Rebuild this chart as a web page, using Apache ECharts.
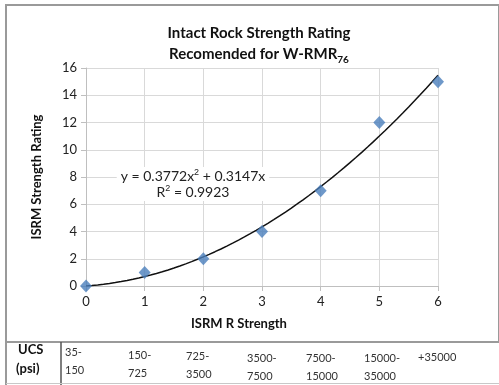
<!DOCTYPE html>
<html><head><meta charset="utf-8">
<script src="https://cdn.jsdelivr.net/npm/echarts@6/dist/echarts.min.js"></script>
<style>html,body{margin:0;padding:0;background:#fff}#c{width:499px;height:385px}</style>
</head><body><div id="c"></div>
<script>
const xValues = [0, 1, 2, 3, 4, 5, 6];
const ratings = [0, 1, 2, 4, 7, 12, 15];
const trendCoef = [0.3772, 0.3147]; // a x^2 + b x
const yTicks = [0, 2, 4, 6, 8, 10, 12, 14, 16];
const ucsLabels = [['35-', '150'], ['150-', '725'], ['725-', '3500'], ['3500-', '7500'], ['7500-', '15000'], ['15000-', '35000'], ['+35000', '']];

const trend = [];
for (let i = 0; i <= 60; i++) { const x = i / 10; trend.push([x, trendCoef[0] * x * x + trendCoef[1] * x]); }

const chart = echarts.init(document.getElementById('c'));
const F = 'Lato, "Open Sans", sans-serif';
const ucsX = [65, 128, 186, 247, 306, 364, 418];
const ucsY = [0, 3, 4, 6, 6, 6, 5];
const gfx = [
  {type:'rect', shape:{x:6,y:5,width:493,height:337}, style:{fill:'none', stroke:'#9a9a9a', lineWidth:2}, silent:true},
  {type:'line', shape:{x1:6,y1:342,x2:6,y2:385}, style:{stroke:'#9a9a9a', lineWidth:2}},
  {type:'line', shape:{x1:61,y1:342,x2:61,y2:385}, style:{stroke:'#555', lineWidth:1.5}},
  {type:'line', shape:{x1:6,y1:383.5,x2:499,y2:383.5}, style:{stroke:'#c8c8c8', lineWidth:1}},
  {type:'text', left:18, top:343, style:{text:'UCS', font:'bold 13px ' + F, fill:'#111'}},
  {type:'text', left:16, top:362, style:{text:'(psi)', font:'bold 13px ' + F, fill:'#111'}},
  {type:'text', left:191, top:317, style:{text:'ISRM R Strength', font:'bold 13px ' + F, fill:'#111'}},
  {type:'text', z:100, x:193, y:167, style:{text:'y = 0.3772x{s|2} + 0.3147x\nR{s|2} = 0.9923', align:'center', verticalAlign:'top', font:'14px ' + F, fill:'#222', lineHeight:16, backgroundColor:'#fff', padding:[1,4], rich:{s:{fontSize:9, verticalAlign:'top', padding:[0,0,6,0]}}}}
];
ucsLabels.forEach((l, i) => {
  gfx.push({type:'text', left:ucsX[i], top:343 + ucsY[i], style:{text:l[0] + (l[1] ? '\n' + l[1] : ''), font:'11px ' + F, fill:'#333', lineHeight:18}});
});

chart.setOption({
  animation:false,
  title:{text:'Intact Rock Strength Rating\nRecomended for W-RMR{sub|76}', left:254, top:18, textAlign:'center',
    textStyle:{fontFamily:F, fontWeight:'bold', fontSize:15, color:'#111', lineHeight:21,
      rich:{sub:{fontFamily:F, fontWeight:'bold', fontSize:10, verticalAlign:'bottom', padding:[8,0,0,0], color:'#111'}}}},
  grid:{left:86, right:61, top:68, bottom:99},
  xAxis:{type:'value', min:0, max:6, interval:1,
    axisLine:{lineStyle:{color:'#bfbfbf'}}, axisTick:{show:true, length:5, lineStyle:{color:'#bfbfbf'}},
    splitLine:{show:true, lineStyle:{color:'#d9d9d9'}},
    axisLabel:{fontFamily:F, fontSize:13, color:'#222', margin:9}},
  yAxis:{type:'value', min:0, max:16, interval:2,
    name:'ISRM Strength Rating', nameLocation:'middle', nameGap:43,
    nameTextStyle:{fontFamily:F, fontWeight:'bold', fontSize:13, color:'#111'},
    axisLine:{show:true, lineStyle:{color:'#bfbfbf'}}, axisTick:{show:true, length:5, lineStyle:{color:'#bfbfbf'}},
    splitLine:{show:true, lineStyle:{color:'#d9d9d9'}},
    axisLabel:{fontFamily:F, fontSize:13, color:'#222', margin:9, formatter: v => yTicks.includes(v) ? String(v) : ''}},
  series:[
    {type:'line', data:trend, showSymbol:false, smooth:false, lineStyle:{color:'#111', width:1.5}, z:2},
    {type:'scatter', data:xValues.map((x, i) => [x, ratings[i]]), symbol:'diamond', symbolSize:[12,13], itemStyle:{color:'#4a7ebb'}, z:3}
  ],
  graphic:gfx
});
</script></body></html>
